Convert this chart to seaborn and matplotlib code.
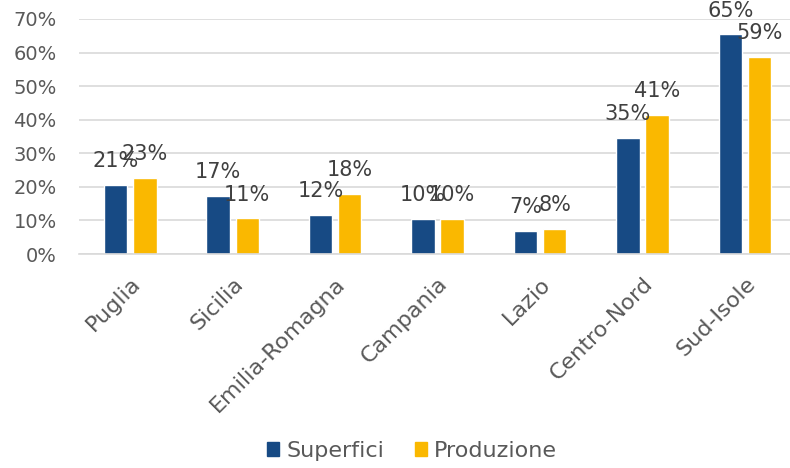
import matplotlib
matplotlib.use("Agg")
import matplotlib.pyplot as plt
import seaborn as sns
import pandas as pd
from matplotlib.ticker import PercentFormatter
from matplotlib.patches import Patch

# dati
regioni = ["Puglia", "Sicilia", "Emilia-Romagna", "Campania", "Lazio", "Centro-Nord", "Sud-Isole"]
superfici = [0.206, 0.174, 0.116, 0.104, 0.068, 0.346, 0.654]
produzione = [0.226, 0.106, 0.178, 0.104, 0.075, 0.414, 0.586]
serie = ["Superfici", "Produzione"]
colori = ["#174A84", "#FAB800"]

df = pd.DataFrame({"regione": regioni, "Superfici": superfici, "Produzione": produzione})
df_long = df.melt(id_vars="regione", value_vars=serie, var_name="serie", value_name="valore")

sns.set_style("white")
plt.rcParams["font.family"] = ["DejaVu Sans"]

fig = plt.figure(figsize=(7.9, 4.68), dpi=100)
ax = fig.add_axes([79 / 790, 1 - 254 / 468, 711 / 790, 235 / 468])

sns.barplot(data=df_long, x="regione", y="valore", hue="serie", palette=colori,
            width=0.57, gap=0.2, ax=ax, legend=False, saturation=1)

ax.set_ylim(0, 0.70)
ax.set_xlim(-0.5, 6.44)
ax.yaxis.set_major_formatter(PercentFormatter(1.0, decimals=0))
ax.set_yticks([i / 10 for i in range(8)])
ax.grid(axis="y", color="#D9D9D9", linewidth=1.2)
ax.set_axisbelow(True)
for s in ["top", "right", "left"]:
    ax.spines[s].set_visible(False)
ax.spines["bottom"].set_color("#D9D9D9")
ax.spines["bottom"].set_linewidth(1.2)
ax.set_xlabel("")
ax.set_ylabel("")
ax.tick_params(axis="both", length=0, colors="#595959", labelsize=14)
ax.tick_params(axis="x", labelsize=16, pad=14)
ax.tick_params(axis="y", pad=16)
plt.setp(ax.get_xticklabels(), rotation=45, ha="right", rotation_mode="anchor")

# etichette dati
for cont in ax.containers:
    ax.bar_label(cont, labels=[f"{v * 100:.0f}%" for v in cont.datavalues],
                 padding=10, fontsize=15, color="#404040")

handles = [Patch(color=c, label=s) for c, s in zip(colori, serie)]
fig.legend(handles=handles, loc="center", bbox_to_anchor=(412 / 790, 1 - 451 / 468),
           ncol=2, frameon=False, fontsize=16, handlelength=0.55, handleheight=0.55,
           handletextpad=0.3, columnspacing=1.4, labelcolor="#595959")

fig.savefig("out.png", dpi=100)
